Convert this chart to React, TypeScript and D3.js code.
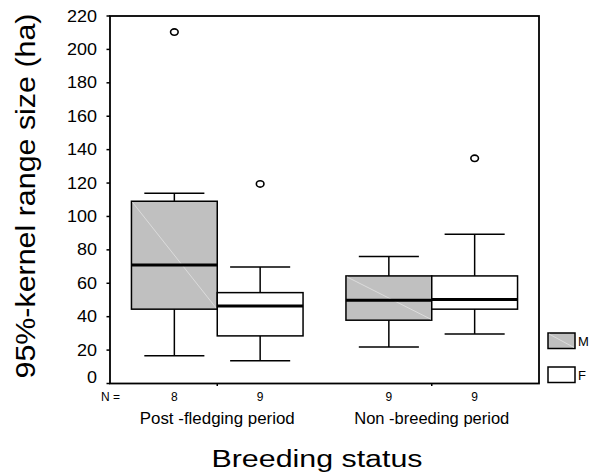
import * as d3 from "d3";

// chart values
const periods = ["Post -fledging period", "Non -breeding period"];
const sexes = ["M", "F"];
const counts = [[8, 9], [9, 9]];
// [whiskerLow, q1, median, q3, whiskerHigh]
const summaries = [
  [[16.6, 44.5, 70.9, 109.1, 113.9], [13.6, 28.5, 46.4, 54.4, 69.7]],
  [[21.8, 37.9, 49.9, 64.4, 76.1], [29.7, 44.5, 50.3, 64.4, 89.3]],
];
const outliers = [[[210.4], [119.5]], [[], [134.8]]];
const yTicks = [0, 20, 40, 60, 80, 100, 120, 140, 160, 180, 200, 220];
const fills = { M: "#c0c0c0", F: "#ffffff" };

const W = 595, H = 474;
const frame = { left: 110, right: 539, top: 16, bottom: 383.5 };
const font = "'Liberation Sans', Arial, sans-serif";

export default function App() {
  const y = d3.scaleLinear().domain([0, 220]).range([frame.bottom, frame.top]);
  const x0 = d3.scaleBand().domain(periods).range([frame.left, frame.right])
    .paddingInner(0.2).paddingOuter(0.1);
  const x1 = d3.scaleBand().domain(sexes).range([0, x0.bandwidth()]);
  const bw = x1.bandwidth();
  const capW = bw * 0.7;

  return (
    <svg width={W} height={H} style={{ position: "absolute", left: 0, top: 0 }} fontFamily={font}>
      <rect width={W} height={H} fill="#fff" />

      {/* boxes */}
      {periods.map((p, i) =>
        sexes.map((s, j) => {
          const [lo, q1, med, q3, hi] = summaries[i][j];
          const bx = (x0(p) as number) + (x1(s) as number);
          const cx = bx + bw / 2;
          return (
            <g key={p + s}>
              <line x1={cx} x2={cx} y1={y(hi)} y2={y(q3)} stroke="#000" strokeWidth={1.5} />
              <line x1={cx} x2={cx} y1={y(q1)} y2={y(lo)} stroke="#000" strokeWidth={1.5} />
              <line x1={cx - capW / 2} x2={cx + capW / 2} y1={y(hi)} y2={y(hi)} stroke="#000" strokeWidth={1.5} />
              <line x1={cx - capW / 2} x2={cx + capW / 2} y1={y(lo)} y2={y(lo)} stroke="#000" strokeWidth={1.5} />
              <rect x={bx} y={y(q3)} width={bw} height={y(q1) - y(q3)}
                fill={fills[s as "M" | "F"]} stroke="#000" strokeWidth={1.5} />
              {s === "M" && (
                <line x1={bx + 1} y1={y(q3) + 1} x2={bx + bw - 1} y2={y(q1) - 1} stroke="#e2e2e2" strokeWidth={0.8} />
              )}
              <line x1={bx} x2={bx + bw} y1={y(med)} y2={y(med)} stroke="#000" strokeWidth={3} />
              {outliers[i][j].map((v, k) => (
                <ellipse key={k} cx={cx} cy={y(v)} rx={3.8} ry={3.2} fill="none" stroke="#000" strokeWidth={1.6} />
              ))}
              <text x={cx} y={401} fontSize={12} textAnchor="middle">{counts[i][j]}</text>
            </g>
          );
        })
      )}

      {/* frame */}
      <rect x={frame.left} y={frame.top} width={frame.right - frame.left} height={frame.bottom - frame.top}
        fill="none" stroke="#000" strokeWidth={1.8} />

      {/* y axis */}
      {yTicks.map((t) => (
        <g key={t}>
          <line x1={frame.left - 3.5} x2={frame.left} y1={y(t)} y2={y(t)} stroke="#000" strokeWidth={1.5} />
          <text x={97} y={(t === 0 ? y(t) - 6 : y(t)) + 5.5} fontSize={16} textAnchor="end"
            textLength={String(t).length * 10} lengthAdjust="spacingAndGlyphs">{t}</text>
        </g>
      ))}

      {/* x axis group ticks */}
      {periods.map((p) => {
        const cx = (x0(p) as number) + x0.bandwidth() / 2;
        return (
          <g key={p}>
            <line x1={cx} x2={cx} y1={frame.bottom} y2={frame.bottom + 2.5} stroke="#000" strokeWidth={1.5} />
            <text x={cx} y={424} fontSize={16} textAnchor="middle"
              textLength={155} lengthAdjust="spacingAndGlyphs">{p}</text>
          </g>
        );
      })}
      <text x={110.5} y={401} fontSize={12} textAnchor="middle">N =</text>

      {/* titles */}
      <text x={317} y={467} fontSize={23} textAnchor="middle"
        textLength={211} lengthAdjust="spacingAndGlyphs">Breeding  status</text>
      <text transform={`translate(35,${196}) rotate(-90)`} fontSize={28} textAnchor="middle"
        textLength={365} lengthAdjust="spacingAndGlyphs">95%-kernel range size (ha)</text>

      {/* legend */}
      {sexes.map((s, i) => {
        const ly = 333 + i * 34;
        return (
          <g key={s}>
            <rect x={548} y={ly} width={27} height={15.5} fill={fills[s as "M" | "F"]} stroke="#000" strokeWidth={1.5} />
            {s === "M" && <line x1={549} y1={ly + 1} x2={574} y2={ly + 14.5} stroke="#e2e2e2" strokeWidth={0.8} />}
            <text x={578} y={ly + 13} fontSize={13}>{s}</text>
          </g>
        );
      })}
    </svg>
  );
}
